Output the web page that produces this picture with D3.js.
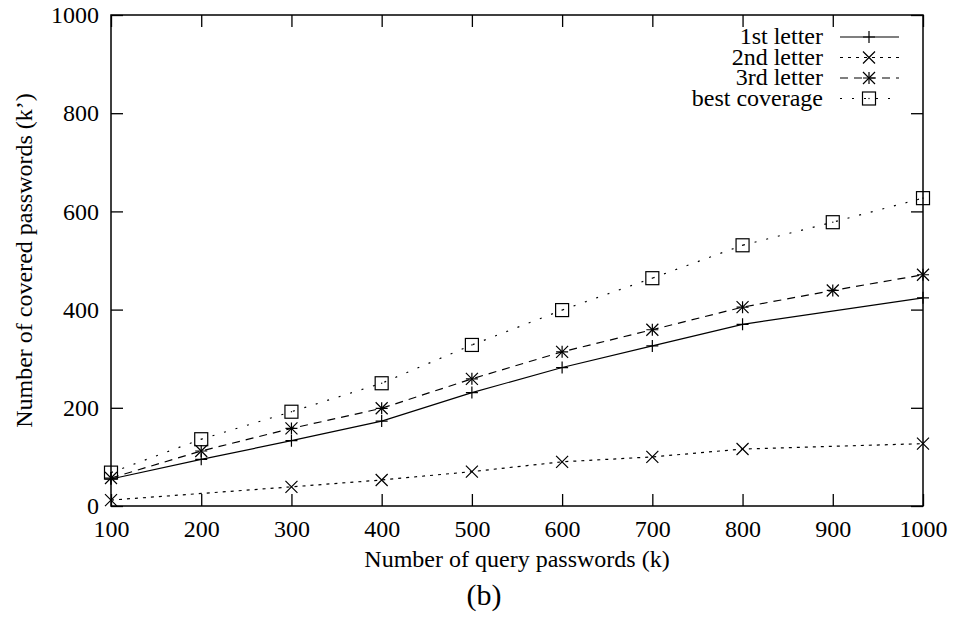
<!DOCTYPE html>
<html>
<head>
<meta charset="utf-8">
<script src="https://cdn.jsdelivr.net/npm/d3@7"></script>
<style>
  body { margin: 0; background: #fff; }
  text { font-family: "Liberation Serif", "Times New Roman", serif; fill: #000; }
</style>
</head>
<body>
<svg id="chart" width="955" height="644"></svg>
<script>
// values
const xTicks = [100, 200, 300, 400, 500, 600, 700, 800, 900, 1000];
const yTicks = [0, 200, 400, 600, 800, 1000];

const firstX = [100, 200, 300, 400, 500, 600, 700, 800, 1000];
const firstY = [55, 95, 133, 173, 231, 282, 326, 370, 424];

const secondX = [100, 300, 400, 500, 600, 700, 800, 1000];
const secondY = [12, 39, 53, 70, 90, 100, 116, 127];

const thirdX = [100, 200, 300, 400, 500, 600, 700, 800, 900, 1000];
const thirdY = [57, 112, 158, 199, 259, 314, 359, 405, 439, 471];

const bestX = [100, 200, 300, 400, 500, 600, 700, 800, 900, 1000];
const bestY = [68, 136, 192, 250, 328, 399, 464, 531, 578, 627];

const seriesNames = ["1st letter", "2nd letter", "3rd letter", "best coverage"];
const dashes = [null, "3,5", "8,6", "2,10"];
const markers = ["plus", "cross", "star", "square"];

let series = [
    { name: seriesNames[0], xs: firstX, ys: firstY },
    { name: seriesNames[1], xs: secondX, ys: secondY },
    { name: seriesNames[2], xs: thirdX, ys: thirdY },
    { name: seriesNames[3], xs: bestX, ys: bestY }
];

let margin = { left: 111, top: 15, right: 32, bottom: 138 },
    width = 955 - margin.left - margin.right,
    height = 644 - margin.top - margin.bottom;

let svg = d3.select("#chart");
let g = svg.append("g").attr("transform", "translate(" + margin.left + "," + margin.top + ")");

let x = d3.scaleLinear().domain([100, 1000]).range([0, width]);
let y = d3.scaleLinear().domain([0, 1000]).range([height, 0]);

const tick = 12;
const fontSize = "24px";

// axes with gnuplot-style inward ticks
g.append("g")
    .attr("transform", "translate(0," + height + ")")
    .call(d3.axisBottom(x).tickValues(xTicks).tickSize(-tick).tickPadding(14).tickFormat(d3.format("d")))
    .call(a => a.select(".domain").remove())
    .selectAll("text").style("font-size", fontSize).style("font-family", "Liberation Serif");

g.append("g")
    .call(d3.axisTop(x).tickValues(xTicks).tickSize(-tick).tickFormat(""))
    .call(a => a.select(".domain").remove());

g.append("g")
    .call(d3.axisLeft(y).tickValues(yTicks).tickSize(-tick).tickPadding(12).tickFormat(d3.format("d")))
    .call(a => a.select(".domain").remove())
    .selectAll("text").style("font-size", fontSize).style("font-family", "Liberation Serif");

g.append("g")
    .attr("transform", "translate(" + width + ",0)")
    .call(d3.axisRight(y).tickValues(yTicks).tickSize(-tick).tickFormat(""))
    .call(a => a.select(".domain").remove());

g.selectAll(".tick line").attr("stroke", "#000").attr("stroke-width", 1.3);

g.append("rect")
    .attr("width", width).attr("height", height)
    .attr("fill", "none").attr("stroke", "#000").attr("stroke-width", 1.5);

function drawMarker(sel, type, cx, cy) {
    let s = 6;
    let m = sel.append("g").attr("transform", "translate(" + cx + "," + cy + ")")
        .attr("stroke", "#000").attr("stroke-width", 1.2).attr("fill", "none");
    if (type == "plus" || type == "star") {
        m.append("path").attr("d", `M${-s},0H${s}M0,${-s}V${s}`);
    }
    if (type == "cross" || type == "star") {
        m.append("path").attr("d", `M${-s},${-s}L${s},${s}M${-s},${s}L${s},${-s}`);
    }
    if (type == "square") {
        m.append("rect").attr("x", -s - 0.5).attr("y", -s - 0.5).attr("width", 2 * s + 1).attr("height", 2 * s + 1);
        m.append("rect").attr("x", -0.6).attr("y", -0.6).attr("width", 1.2).attr("height", 1.2)
            .attr("fill", "#000").attr("stroke", "none");
    }
}

let line = d3.line().x(d => x(d[0])).y(d => y(d[1]));

series.forEach((s, i) => {
    let pts = s.xs.map((v, k) => [v, s.ys[k]]);
    g.append("path")
        .datum(pts)
        .attr("d", line)
        .attr("fill", "none")
        .attr("stroke", "#000")
        .attr("stroke-width", 1.2)
        .attr("stroke-dasharray", dashes[i]);
    pts.forEach(p => drawMarker(g, markers[i], x(p[0]), y(p[1])));
});

// legend
let legend = svg.append("g");
series.forEach((s, i) => {
    let ly = 37 + i * 20.5;
    legend.append("text")
        .attr("x", 823).attr("y", ly + 7)
        .attr("text-anchor", "end")
        .style("font-size", fontSize)
        .text(s.name);
    legend.append("line")
        .attr("x1", 840).attr("x2", 899).attr("y1", ly).attr("y2", ly)
        .attr("stroke", "#000").attr("stroke-width", 1.2)
        .attr("stroke-dasharray", dashes[i]);
    drawMarker(legend, markers[i], 869, ly);
});

// axis titles
svg.append("text")
    .attr("x", margin.left + width / 2).attr("y", 567)
    .attr("text-anchor", "middle")
    .style("font-size", fontSize)
    .text("Number of query passwords (k)");

svg.append("text")
    .attr("transform", "translate(32," + (margin.top + height / 2) + ") rotate(-90)")
    .attr("text-anchor", "middle")
    .style("font-size", fontSize)
    .text("Number of covered passwords (k’)");

svg.append("text")
    .attr("x", 484).attr("y", 605)
    .attr("text-anchor", "middle")
    .style("font-size", "30px")
    .text("(b)");
</script>
</body>
</html>
